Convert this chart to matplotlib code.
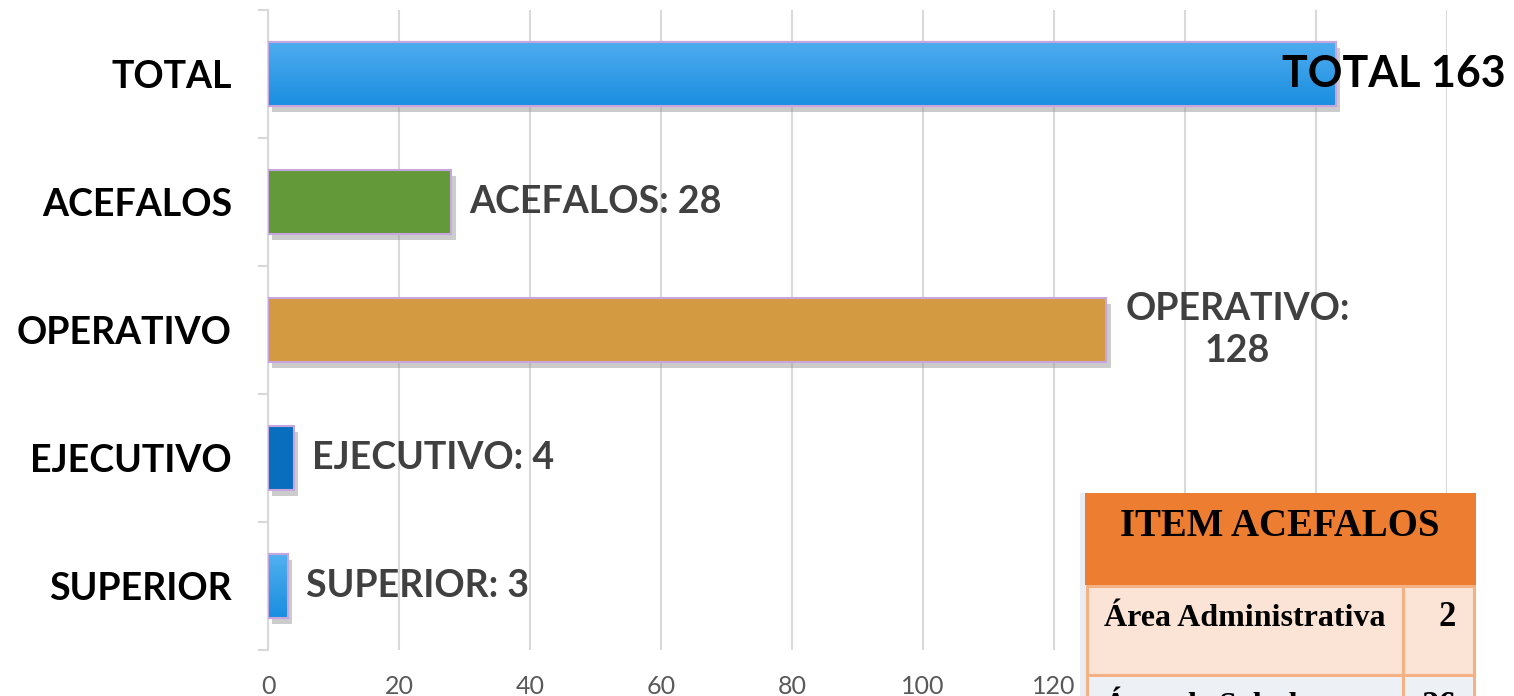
import matplotlib.pyplot as plt
import matplotlib.patheffects as pe
from matplotlib.patches import Rectangle
from matplotlib.colors import LinearSegmentedColormap
import numpy as np

# Chart data
categories = ['SUPERIOR', 'EJECUTIVO', 'OPERATIVO', 'ACEFALOS', 'TOTAL']
values = [3, 4, 128, 28, 163]
bar_labels = ['SUPERIOR: 3', 'EJECUTIVO: 4', 'OPERATIVO:\n128', 'ACEFALOS: 28', 'TOTAL 163']
x_ticks = [0, 20, 40, 60, 80, 100, 120, 140, 160, 180]
x_tick_labels = ['0', '20', '40', '60', '80', '100', '120', '', '', '']

# Inset table data
table_title = 'ITEM ACEFALOS'
table_areas = ['Área Administrativa', 'Área de Salud']
table_counts = [2, 26]

# Style
colors = ['#2E9FE8', '#0A6EBE', '#D49A42', '#64993A', '#2B9AE6']
gradients = [('#52B0F0', '#1A8DE0'), None, None, None, ('#4EACEF', '#1A8EE0')]
edge_color = '#C7A6DE'
grid_color = '#D9D9D9'
W, H = 1514, 696
plt.rcParams['font.family'] = ['Lato', 'DejaVu Sans']


def fx(px):
    return px / W


def fy(py):
    return 1 - py / H


fig = plt.figure(figsize=(W / 100, H / 100), dpi=100, facecolor='white')
ax = fig.add_axes([fx(268), fy(650), fx(1447 - 268), (650 - 10) / H])

y = np.arange(len(categories))
bars = ax.barh(y, values, height=0.5, color=colors, edgecolor=edge_color, linewidth=1.5, zorder=3)
for b, g in zip(bars, gradients):
    b.set_path_effects([pe.SimplePatchShadow(offset=(3, -4), shadow_rgbFace='#9A9A9A', alpha=0.5),
                        pe.Normal()])
    if g is not None:
        cmap = LinearSegmentedColormap.from_list('g', [g[1], g[0]])
        x0, y0 = b.get_x(), b.get_y()
        im = ax.imshow(np.linspace(0, 1, 64).reshape(-1, 1), cmap=cmap, aspect='auto', origin='lower',
                       extent=(x0, x0 + b.get_width(), y0, y0 + b.get_height()), zorder=3.5,
                       interpolation='bicubic')
        im.set_clip_path(b)
        # redraw edge on top of gradient
        ax.add_patch(Rectangle((x0, y0), b.get_width(), b.get_height(), facecolor='none',
                               edgecolor=edge_color, linewidth=1.5, zorder=3.6))

# Value labels
for i, (v, lab) in enumerate(zip(values, bar_labels)):
    if lab.startswith('TOTAL'):
        ax.annotate(lab, (v, i), xytext=(170, 0), textcoords='offset pixels', ha='right', va='center',
                    fontsize=31, fontweight='bold', color='black', zorder=5, annotation_clip=False)
    elif '\n' in lab:
        ax.annotate(lab, (v, i), xytext=(131, 0), textcoords='offset pixels', ha='center', va='center',
                    fontsize=27, fontweight='bold', color='#404040', zorder=5, linespacing=1.25)
    else:
        ax.annotate(lab, (v, i), xytext=(18, 0), textcoords='offset pixels', ha='left', va='center',
                    fontsize=27, fontweight='bold', color='#404040', zorder=5)

ax.set_xlim(0, 180)
ax.set_ylim(-0.5, len(categories) - 0.5)
ax.set_xticks(x_ticks)
ax.set_xticklabels(x_tick_labels, fontsize=18, color='#595959')
ax.tick_params(axis='x', length=0, pad=18)
ax.set_yticks(y)
ax.set_yticklabels(categories, fontsize=27, fontweight='bold', color='black')
ax.set_yticks(np.arange(-0.5, len(categories)), minor=True)
ax.tick_params(axis='y', which='major', length=0, pad=26)
ax.tick_params(axis='y', which='minor', length=7.2, width=1.5, color=grid_color)
ax.xaxis.grid(True, color=grid_color, linewidth=1.5, zorder=0)
ax.set_axisbelow(True)
for s in ['top', 'right', 'bottom']:
    ax.spines[s].set_visible(False)
ax.spines['left'].set_color(grid_color)
ax.spines['left'].set_linewidth(1.5)

# Inset table (drawn in figure pixels)
tx0, tx1, tdiv = 1085, 1476, 1403
header_top, header_bot = 493, 585
row_h = 89
serif = ['Liberation Serif', 'DejaVu Serif']

fig.add_artist(Rectangle((fx(1080), fy(H + 5)), fx(6), (H + 5 - header_top) / H,
                         transform=fig.transFigure, facecolor='#E9EDF3', edgecolor='none', zorder=5))
fig.add_artist(Rectangle((fx(tx0), fy(header_bot)), fx(tx1 - tx0), (header_bot - header_top) / H,
                         transform=fig.transFigure, facecolor='#ED7D31', edgecolor='none', zorder=6))
fig.text(fx(1280), fy(527), table_title, ha='center', va='center', fontsize=28,
         fontweight='bold', family=serif, color='black', zorder=8)

row_colors = ['#FBE4D5', '#EDF1F6']
for k, (area, cnt) in enumerate(zip(table_areas, table_counts)):
    top = header_bot + 1 + k * row_h
    for (x0, x1) in [(tx0 + 2, tdiv), (tdiv, tx1 - 2)]:
        fig.add_artist(Rectangle((fx(x0), fy(top + row_h)), fx(x1 - x0), row_h / H,
                                 transform=fig.transFigure, facecolor=row_colors[k % 2],
                                 edgecolor='#F4B183', linewidth=2.2, zorder=6))
    fig.text(fx(1104), fy(top + 32), area, ha='left', va='center', fontsize=23,
             fontweight='bold', family=serif, color='black', zorder=8)
    fig.text(fx(1456), fy(top + 32), str(cnt), ha='right', va='center', fontsize=25,
             fontweight='bold', family=serif, color='black', zorder=8)

fig.savefig('out.png', dpi=100, facecolor='white')
